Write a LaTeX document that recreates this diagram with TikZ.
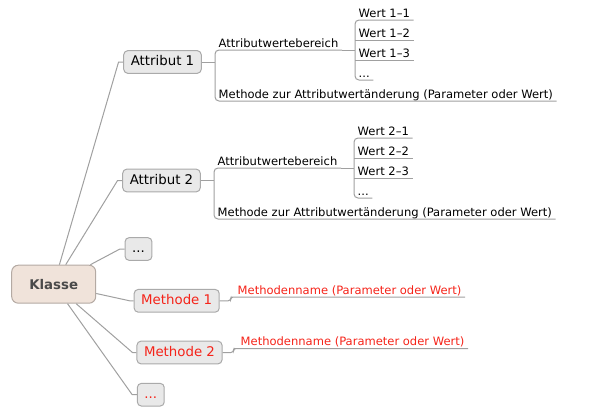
\documentclass[tikz,border=0pt]{standalone}
\usepackage{fontspec}
\setmainfont{DejaVu Sans}
\definecolor{linegray}{RGB}{160,160,160}
\definecolor{boxgray}{RGB}{233,233,233}
\definecolor{boxline}{RGB}{170,170,170}
\definecolor{klassefill}{RGB}{240,227,218}
\definecolor{klasseline}{RGB}{180,170,163}
\definecolor{klassetext}{RGB}{74,74,74}
\definecolor{methred}{RGB}{245,35,25}

\begin{document}
\begin{tikzpicture}[x=0.75pt, y=-0.75pt,
	conn/.style={draw=linegray, line width=0.75pt},
	topic/.style={draw=boxline, fill=boxgray, line width=0.75pt, rounded corners=3pt, font=\fontsize{10}{12}\selectfont, inner xsep=5.3pt, text height=7.4pt, text depth=1.8pt, minimum height=17pt},
	klassebox/.style={draw=klasseline, fill=klassefill, line width=0.75pt, rounded corners=5pt, font=\fontsize{10}{12}\selectfont\bfseries, text=klassetext, minimum width=63pt, minimum height=28.5pt},
	leaf/.style={anchor=south west, font=\fontsize{8.65}{10}\selectfont, inner xsep=2.6pt, inner ysep=2pt, text depth=0pt}]
	\useasboundingbox (0,0) rectangle (603,418);
	\node[klassebox] (klasse) at (53.7,284.2) {Klasse};
	\node[topic] (attr1) at (162.5,62) {Attribut 1};
	\node[topic] (attr2) at (161.5,180.5) {Attribut 2};
	\node[topic] (attrmore) at (138.5,249) {...};
	\node[topic, text=methred] (meth1) at (176.7,300.8) {Methode 1};
	\node[topic, text=methred] (meth2) at (179.5,352.5) {Methode 2};
	\node[topic, text=methred] (methmore) at (150.8,394.7) {...};
	\node[leaf] (awb1) at (215,50) {Attributwertebereich};
	\node[leaf] (mza1) at (215,101) {Methode zur Attributwertänderung (Parameter oder Wert)};
	\node[leaf] (w11) at (355,20) {Wert 1--1};
	\node[leaf] (w12) at (355,40) {Wert 1--2};
	\node[leaf] (w13) at (355,60) {Wert 1--3};
	\node[leaf] (w1x) at (355,80) {...};
	\node[leaf] (awb2) at (214,168) {Attributwertebereich};
	\node[leaf] (mza2) at (214,219) {Methode zur Attributwertänderung (Parameter oder Wert)};
	\node[leaf] (w21) at (354,138) {Wert 2--1};
	\node[leaf] (w22) at (354,158) {Wert 2--2};
	\node[leaf] (w23) at (354,178) {Wert 2--3};
	\node[leaf] (w2x) at (354,198) {...};
	\node[leaf, text=methred] (mn1) at (234,297) {Methodenname (Parameter oder Wert)};
	\node[leaf, text=methred] (mn2) at (237,348.5) {Methodenname (Parameter oder Wert)};
	\draw[conn] (klasse) -- ([xshift=-3.5pt]attr1.west) -- (attr1.west);
	\draw[conn] (klasse) -- ([xshift=-3.5pt]attr2.west) -- (attr2.west);
	\draw[conn] (klasse) -- ([xshift=-3.5pt]attrmore.west) -- (attrmore.west);
	\draw[conn] (klasse) -- ([xshift=-3pt]meth1.west) -- (meth1.west);
	\draw[conn] (klasse) -- ([xshift=-3pt]meth2.west) -- (meth2.west);
	\draw[conn] (klasse) -- ([xshift=-3.5pt]methmore.west) -- (methmore.west);
	\draw[conn] (attr1.east) -- (attr1.east -| awb1.south west);
	\draw[conn, rounded corners=3pt] (awb1.south east) -- (awb1.south west) -- (mza1.south west) -- (mza1.south east);
	\draw[conn] (awb1.south east) -- (awb1.south east -| w11.south west);
	\draw[conn, rounded corners=3pt] (w11.south east) -- (w11.south west) -- (w1x.south west) -- (w1x.south east);
	\draw[conn] (w12.south west) -- (w12.south east);
	\draw[conn] (w13.south west) -- (w13.south east);
	\draw[conn] (attr2.east) -- (attr2.east -| awb2.south west);
	\draw[conn, rounded corners=3pt] (awb2.south east) -- (awb2.south west) -- (mza2.south west) -- (mza2.south east);
	\draw[conn] (awb2.south east) -- (awb2.south east -| w21.south west);
	\draw[conn, rounded corners=3pt] (w21.south east) -- (w21.south west) -- (w2x.south west) -- (w2x.south east);
	\draw[conn] (w22.south west) -- (w22.south east);
	\draw[conn] (w23.south west) -- (w23.south east);
	\draw[conn, rounded corners=2pt] (meth1.east) -- ++(11,0) |- (mn1.south west) -- (mn1.south east);
	\draw[conn, rounded corners=2pt] (meth2.east) -- ++(11,0) |- (mn2.south west) -- (mn2.south east);
\end{tikzpicture}
\end{document}
